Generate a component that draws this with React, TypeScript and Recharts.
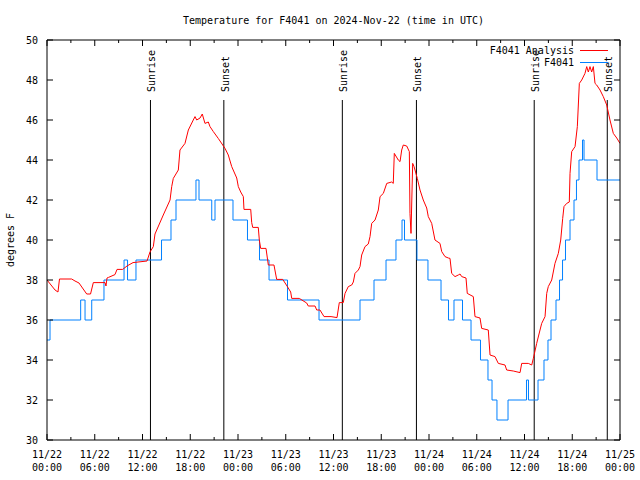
import React from "react";
import { LineChart, Line, XAxis, YAxis, ReferenceLine } from "recharts";

// hours since 2024-11-22 00:00 UTC
const redT = [
  0, 1.01, 1.38, 1.57, 3.1, 3.52, 4.02, 4.99, 5.47, 5.82, 7.29, 7.41, 7.54, 7.73, 8.54, 8.8, 9.51, 10.05, 10.81,
  12.57, 12.94, 13.36, 13.57, 14.61, 15.46, 15.67, 15.87, 16.5, 16.71, 17.34, 17.76, 18.38, 18.6, 18.81, 19.23,
  19.51, 19.85, 20.27, 20.48, 20.9, 21.52, 22.37, 22.78, 23.21, 23.84, 24.04, 24.34, 24.67, 24.75, 25.6, 25.72,
  25.85, 26.55, 26.68, 26.85, 27.52, 27.81, 28.52, 28.86, 29.62, 30.16, 30.62, 30.75, 31.7, 32.63, 32.83, 33.68,
  33.89, 34.3, 34.81, 35.69, 36.44, 36.73, 37.23, 37.45, 37.86, 38.29, 38.49, 38.7, 39.12, 39.33, 39.54, 39.96,
  40.37, 40.59, 40.8, 41.22, 41.63, 41.85, 42.26, 42.69, 43.31, 43.51, 43.64, 44.14, 44.36, 44.57, 44.77, 45.2,
  45.53, 45.61, 45.74, 45.95, 46.12, 46.24, 46.53, 46.87, 47.28, 47.71, 47.91, 48.34, 48.75, 49.38, 49.6, 50.01,
  50.43, 50.64, 50.85, 51.27, 51.68, 51.9, 52.11, 52.65, 52.81, 53.57, 53.78, 54.41, 54.62, 55.45, 55.67, 56.29,
  56.71, 57.55, 57.76, 58.59, 59.44, 59.65, 60.48, 60.91, 61.11, 61.53, 61.95, 62.16, 62.58, 62.79, 62.99, 63.42,
  63.83, 64.25, 64.55, 64.8, 64.96, 65.3, 65.63, 65.72, 65.93, 66.35, 66.64, 66.89, 67.19, 67.6, 67.82, 68.02,
  68.23, 68.44, 68.65, 68.86, 69.07, 69.49, 69.9, 70.33, 70.74, 71.16, 71.59, 72,
];
const redV = [
  38.0, 37.5, 37.4, 38.05, 38.05, 37.95, 37.85, 37.3, 37.3, 37.87, 37.87, 37.7, 38.1, 38.13, 38.27, 38.53, 38.53, 38.7, 38.87,
  38.95, 39.4, 39.67, 40.3, 41.25, 42.0, 42.67, 43.08, 43.5, 44.5, 44.83, 45.5, 46.0, 46.17, 46.0, 46.1,
  46.3, 45.83, 45.9, 45.67, 45.42, 45.08, 44.58, 44.25, 43.67, 43.1, 42.67, 42.4, 42.17, 41.53, 41.53, 40.87,
  40.63, 40.63, 40.0, 39.58, 39.58, 38.75, 38.75, 38.03, 38.03, 37.7, 37.4, 37.08, 37.08, 36.85, 36.7, 36.7,
  36.5, 36.5, 36.17, 36.17, 36.12, 36.87, 36.87, 37.33, 37.67, 37.75, 37.9, 38.33, 38.5, 38.67, 39.25, 39.67,
  39.8, 40.17, 40.83, 41.0, 41.5, 42.17, 42.33, 42.83, 42.9, 42.83, 44.33, 44.0, 43.92, 44.5, 44.75, 44.7,
  44.42, 41.33, 40.33, 43.83, 43.67, 43.5, 43.08, 42.5, 42.0, 41.6, 41.17, 40.83, 40.0, 39.83, 39.42, 39.17,
  39.1, 39.08, 38.33, 38.17, 38.25, 38.3, 38.17, 38.1, 37.33, 37.17, 36.17, 36.1, 35.58, 35.5, 34.25, 34.17,
  33.83, 33.75, 33.5, 33.45, 33.37, 33.83, 33.83, 33.75, 34.08, 34.83, 35.5, 35.83, 36.17, 37.33, 37.67, 38.0,
  38.83, 39.33, 40.0, 41.08, 41.67, 41.83, 41.9, 43.33, 44.42, 44.67, 45.67, 47.83, 48.0, 48.33, 48.67, 48.4,
  48.67, 48.4, 48.67, 47.83, 47.75, 47.5, 47.17, 46.75, 46.0, 45.33, 45.1, 44.83,
];

// station readings, whole degrees, value holds until next time
const blueT = [
  0, 0.38, 4.23, 4.78, 5.62, 7.16, 9.68, 10.12, 11.18, 14.39, 15.58, 16.21, 18.72, 19.1, 20.7, 21.11, 23.37,
  25.19, 26.7, 27.9, 30.22, 34.18, 39.33, 41.09, 42.6, 43.85, 44.61, 44.92, 46.49, 47.87, 49.51, 50.45, 51.14,
  52.21, 53.28, 54.47, 55.41, 55.92, 56.54, 57.93, 60.25, 60.5, 61.7, 62.45, 62.95, 63.33, 63.96, 64.4, 64.78,
  65.15, 65.72, 66.22, 66.53, 66.85, 67.29, 67.48, 69.11, 72,
];
const blueV = [
  35, 36, 37, 36, 37, 38, 39, 38, 39, 40, 41, 42, 43, 42, 41, 42, 41,
  40, 39, 38, 37, 36, 37, 38, 39, 40, 41, 40, 39, 38, 37, 36, 37,
  36, 35, 34, 33, 32, 31, 32, 33, 32, 33, 34, 35, 36, 37, 38, 39,
  40, 41, 42, 43, 44, 45, 44, 43, 43,
];

const sunrise = [13.0, 37.11, 61.22];
const sunset = [22.22, 46.42, 70.4];
const xTicks = [0, 3, 6, 9, 12, 15, 18, 21, 24, 27, 30, 33, 36, 39, 42, 45, 48, 51, 54, 57, 60, 63, 66, 69, 72];
const yTicks = [30, 32, 34, 36, 38, 40, 42, 44, 46, 48, 50];

const redData = redT.map((t, i) => ({ t, v: redV[i] }));
const blueData = blueT.map((t, i) => ({ t, v: blueV[i] }));

const FONT = "'DejaVu Sans Mono', 'Liberation Mono', monospace";

function dateLabel(h: number) {
  const day = 22 + Math.floor(h / 24);
  const hr = h % 24;
  return ["11/" + day, String(hr).padStart(2, "0") + ":00"];
}

function BottomTick(props: any) {
  const { x, y, payload } = props;
  const major = payload.value % 6 === 0;
  const [d, t] = dateLabel(payload.value);
  return (
    <g>
      <line x1={x} y1={y} x2={x} y2={y - (major ? 6 : 3)} stroke="#000" />
      {major && (
        <text x={x} y={y + 18} textAnchor="middle" fontFamily={FONT} fontSize={10} fill="#000">
          {d}
        </text>
      )}
      {major && (
        <text x={x} y={y + 31} textAnchor="middle" fontFamily={FONT} fontSize={10} fill="#000">
          {t}
        </text>
      )}
    </g>
  );
}

function TopTick(props: any) {
  const { x, y, payload } = props;
  const major = payload.value % 6 === 0;
  return <line x1={x} y1={y} x2={x} y2={y + (major ? 6 : 3)} stroke="#000" />;
}

function LeftTick(props: any) {
  const { x, y, payload } = props;
  return (
    <g>
      <line x1={x} y1={y} x2={x + 6} y2={y} stroke="#000" />
      <text x={x - 9} y={y + 4} textAnchor="end" fontFamily={FONT} fontSize={10} fill="#000">
        {payload.value}
      </text>
    </g>
  );
}

function RightTick(props: any) {
  const { x, y } = props;
  return <line x1={x} y1={y} x2={x - 6} y2={y} stroke="#000" />;
}

function sunLabel(text: string) {
  return (props: any) => {
    const vb = props.viewBox;
    const lx = vb.x + 5;
    const ly = vb.y + 52;
    return (
      <text
        x={lx}
        y={ly}
        transform={`rotate(-90 ${lx} ${ly})`}
        textAnchor="start"
        fontFamily={FONT}
        fontSize={10}
        fill="#000"
      >
        {text}
      </text>
    );
  };
}

const legendRows = [
  { name: "F4041 Analysis", color: "#ff0000" },
  { name: "F4041", color: "#0080ff" },
];

function LegendBox() {
  return (
    <div style={{ position: "absolute", left: 480, top: 43.5, width: 140, height: 26, fontFamily: FONT, fontSize: 10 }}>
      {legendRows.map((r, i) => (
        <div key={r.name} style={{ position: "absolute", top: i * 12.5, left: 0, width: 140, height: 13 }}>
          <span style={{ position: "absolute", right: 46, top: 0, lineHeight: "13px", whiteSpace: "pre", color: "#000" }}>
            {r.name}
          </span>
          <span style={{ position: "absolute", left: 100, top: 6, width: 28, height: 1, background: r.color }} />
        </div>
      ))}
    </div>
  );
}

export default function App() {
  return (
    <div style={{ position: "absolute", left: 0, top: 0, width: 640, height: 480, background: "#fff" }}>
      <div
        style={{
          position: "absolute",
          left: 0,
          top: 14,
          width: 667,
          textAlign: "center",
          fontFamily: FONT,
          fontSize: 10,
          lineHeight: "13px",
          whiteSpace: "pre",
        }}
      >
        Temperature for F4041 on 2024-Nov-22 (time in UTC)
      </div>
      <div
        style={{
          position: "absolute",
          left: 10,
          top: 240,
          transform: "translate(-50%, -50%) rotate(-90deg)",
          fontFamily: FONT,
          fontSize: 10,
          whiteSpace: "pre",
        }}
      >
        degrees F
      </div>
      <LineChart width={640} height={480} margin={{ top: 39, right: 0, bottom: 0, left: 0 }}>
        <XAxis
          xAxisId="b"
          dataKey="t"
          type="number"
          domain={[0, 72]}
          ticks={xTicks}
          interval={0}
          height={40}
          tickSize={0}
          tickMargin={0}
          tickLine={false}
          axisLine={{ stroke: "#000" }}
          tick={<BottomTick />}
          allowDataOverflow
        />
        <XAxis
          xAxisId="t"
          orientation="top"
          dataKey="t"
          type="number"
          domain={[0, 72]}
          ticks={xTicks}
          interval={0}
          height={1}
          tickSize={0}
          tickMargin={0}
          tickLine={false}
          axisLine={{ stroke: "#000" }}
          tick={<TopTick />}
          allowDataOverflow
        />
        <YAxis
          yAxisId="l"
          type="number"
          domain={[30, 50]}
          ticks={yTicks}
          interval={0}
          width={47}
          tickSize={0}
          tickMargin={0}
          tickLine={false}
          axisLine={{ stroke: "#000" }}
          tick={<LeftTick />}
          allowDataOverflow
        />
        <YAxis
          yAxisId="r"
          orientation="right"
          type="number"
          domain={[30, 50]}
          ticks={yTicks}
          interval={0}
          width={20}
          tickSize={0}
          tickMargin={0}
          tickLine={false}
          axisLine={{ stroke: "#000" }}
          tick={<RightTick />}
          allowDataOverflow
        />
        {sunrise.concat(sunset).map((t) => (
          <ReferenceLine
            key={"seg" + t}
            xAxisId="b"
            yAxisId="l"
            segment={[
              { x: t, y: 30 },
              { x: t, y: 47 },
            ]}
            stroke="#000"
            strokeWidth={1}
          />
        ))}
        {sunrise.map((t) => (
          <ReferenceLine key={"sr" + t} xAxisId="b" yAxisId="l" x={t} stroke="none" label={sunLabel("Sunrise")} />
        ))}
        {sunset.map((t) => (
          <ReferenceLine key={"ss" + t} xAxisId="b" yAxisId="l" x={t} stroke="none" label={sunLabel("Sunset")} />
        ))}
        <Line
          xAxisId="b"
          yAxisId="l"
          data={blueData}
          dataKey="v"
          name="F4041"
          type="stepAfter"
          stroke="#0080ff"
          strokeWidth={1}
          dot={false}
          activeDot={false}
          isAnimationActive={false}
        />
        <Line
          xAxisId="b"
          yAxisId="l"
          data={redData}
          dataKey="v"
          name="F4041 Analysis"
          type="linear"
          stroke="#ff0000"
          strokeWidth={1}
          dot={false}
          activeDot={false}
          isAnimationActive={false}
        />
      </LineChart>
      <LegendBox />
    </div>
  );
}
